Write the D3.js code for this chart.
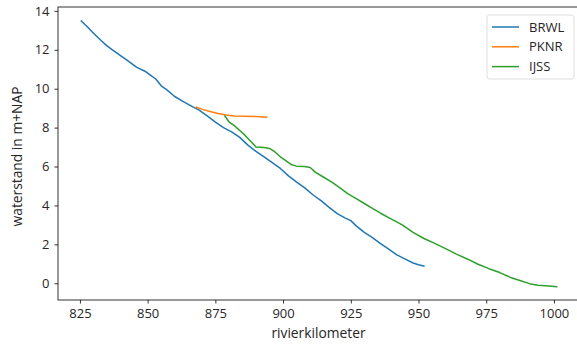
<!DOCTYPE html>
<html>
<head>
<meta charset="utf-8">
<script src="https://cdn.jsdelivr.net/npm/d3@7"></script>
<style>
  html, body { margin: 0; padding: 0; background: #fff; }
  svg { display: block; font-family: "Open Sans", "DejaVu Sans", sans-serif; }
</style>
</head>
<body>
<svg id="chart" width="577" height="347"></svg>
<script>
// Water level (m+NAP) along the river, per station
const brwlKm = [825.5, 828, 830, 833, 835, 837, 840, 843, 846, 849, 851, 853, 855, 857, 860, 863, 866, 869, 872, 875, 878, 881, 884, 887, 890, 893, 896, 899, 902, 905, 908, 911, 914, 917, 920, 923, 925, 927, 930, 933, 936, 939, 942, 945, 948, 950, 952];
const brwlLevel = [13.48, 13.15, 12.85, 12.45, 12.2, 12.0, 11.7, 11.4, 11.1, 10.9, 10.7, 10.5, 10.15, 9.95, 9.6, 9.35, 9.12, 8.9, 8.6, 8.28, 8.0, 7.78, 7.5, 7.1, 6.78, 6.5, 6.2, 5.9, 5.52, 5.2, 4.9, 4.55, 4.25, 3.9, 3.58, 3.35, 3.22, 2.95, 2.62, 2.35, 2.04, 1.75, 1.46, 1.25, 1.04, 0.95, 0.88];

const pknrKm = [868, 870, 873, 876, 879, 882, 886, 890, 894];
const pknrLevel = [9.05, 8.95, 8.83, 8.73, 8.65, 8.6, 8.58, 8.57, 8.53];

const ijssKm = [878.5, 880, 882, 884, 886, 888, 890, 893, 895, 897, 899, 901, 903, 905, 908, 910, 912, 915, 918, 921, 924, 927, 930, 933, 936, 940, 944, 948, 952, 956, 960, 964, 968, 972, 976, 980, 984, 988, 991, 994, 997, 1001];
const ijssLevel = [8.6, 8.3, 8.1, 7.85, 7.6, 7.3, 7.0, 6.98, 6.93, 6.75, 6.5, 6.3, 6.1, 6.02, 6.0, 5.95, 5.7, 5.45, 5.2, 4.9, 4.6, 4.35, 4.1, 3.85, 3.6, 3.3, 3.0, 2.62, 2.3, 2.05, 1.78, 1.5, 1.25, 0.98, 0.75, 0.55, 0.3, 0.12, -0.02, -0.1, -0.13, -0.17];

const seriesNames = ["BRWL", "PKNR", "IJSS"];
const seriesColors = ["#1f77b4", "#ff7f0e", "#2ca02c"];
const xTicks = [825, 850, 875, 900, 925, 950, 975, 1000];
const yTicks = [0, 2, 4, 6, 8, 10, 12, 14];

const series = [
  { name: seriesNames[0], color: seriesColors[0], pts: brwlKm.map((k, i) => [k, brwlLevel[i]]) },
  { name: seriesNames[1], color: seriesColors[1], pts: pknrKm.map((k, i) => [k, pknrLevel[i]]) },
  { name: seriesNames[2], color: seriesColors[2], pts: ijssKm.map((k, i) => [k, ijssLevel[i]]) }
];

const svg = d3.select("#chart");
const plot = { left: 58, top: 7, right: 581, bottom: 300 };

const x = d3.scaleLinear().domain([816.9, 1010]).range([plot.left, plot.right]);
const y = d3.scaleLinear().domain([-0.86, 14.2]).range([plot.bottom, plot.top]);

const textColor = "#262626";

// Lines
const line = d3.line().x(d => x(d[0])).y(d => y(d[1]));
svg.append("g").selectAll("path").data(series).join("path")
  .attr("d", d => line(d.pts))
  .attr("fill", "none")
  .attr("stroke", d => d.color)
  .attr("stroke-width", 1.5)
  .attr("stroke-linejoin", "round")
  .attr("stroke-linecap", "square");

// Spines
const frame = svg.append("g").attr("fill", "none").attr("stroke", "#000").attr("stroke-width", 0.8);
frame.append("rect")
  .attr("x", plot.left).attr("y", plot.top)
  .attr("width", plot.right - plot.left).attr("height", plot.bottom - plot.top);

// Axes
const xAxis = svg.append("g")
  .attr("transform", `translate(0,${plot.bottom})`)
  .call(d3.axisBottom(x).tickValues(xTicks).tickSize(3.5).tickPadding(5).tickFormat(d3.format("d")));
const yAxis = svg.append("g")
  .attr("transform", `translate(${plot.left},0)`)
  .call(d3.axisLeft(y).tickValues(yTicks).tickSize(3.5).tickPadding(5).tickFormat(d3.format("d")));

[xAxis, yAxis].forEach(g => {
  g.select(".domain").remove();
  g.selectAll(".tick line").attr("stroke", "#000").attr("stroke-width", 0.8);
  g.selectAll(".tick text").attr("fill", textColor).style("font-size", "13px").style("font-family", "\"Open Sans\", sans-serif");
});

// Axis titles
svg.append("text")
  .attr("x", 318.5).attr("y", 338)
  .attr("text-anchor", "middle").attr("fill", textColor)
  .style("font-size", "13.8px")
  .text("rivierkilometer");
svg.append("text")
  .attr("transform", `translate(22,156.5) rotate(-90)`)
  .attr("text-anchor", "middle").attr("fill", textColor)
  .style("font-size", "13.8px")
  .text("waterstand in m+NAP");

// Legend
const legend = svg.append("g").attr("transform", "translate(487,15)");
legend.append("rect")
  .attr("width", 87).attr("height", 64).attr("rx", 2.5)
  .attr("fill", "#fff").attr("fill-opacity", 0.8)
  .attr("stroke", "#d6d6d6").attr("stroke-width", 0.8);
const items = legend.selectAll("g.item").data(series).join("g")
  .attr("class", "item")
  .attr("transform", (d, i) => `translate(0,${12 + i * 19.8})`);
items.append("line")
  .attr("x1", 5).attr("x2", 32)
  .attr("stroke", d => d.color).attr("stroke-width", 1.5);
items.append("text")
  .attr("x", 42).attr("dy", "0.35em")
  .attr("fill", textColor).style("font-size", "13px")
  .text(d => d.name);
</script>
</body>
</html>
